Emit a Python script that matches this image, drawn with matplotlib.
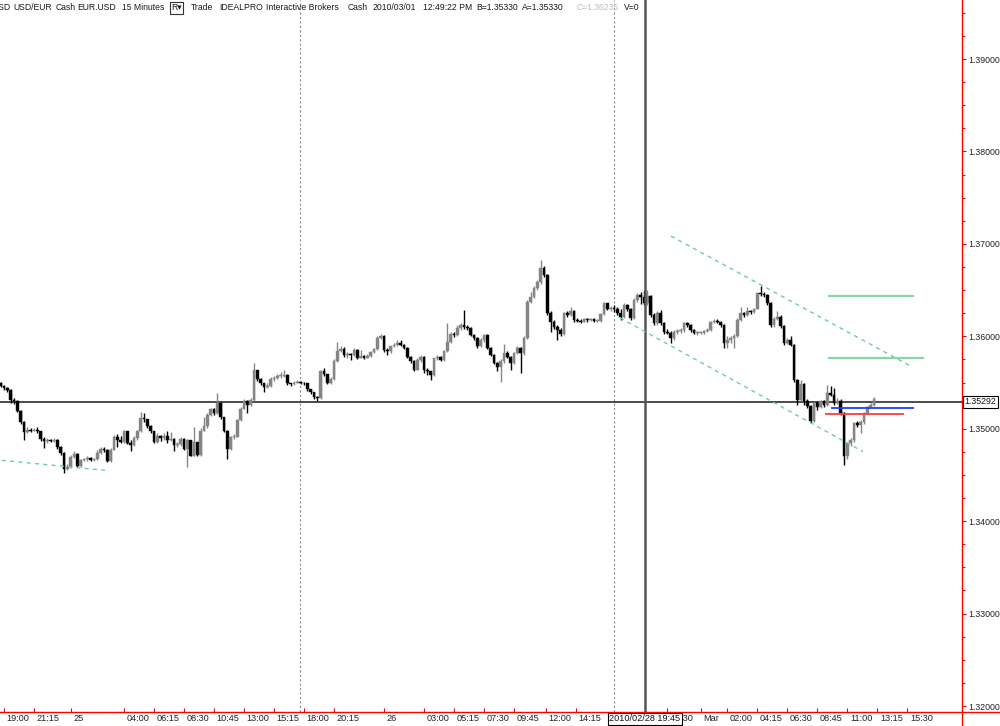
import matplotlib
matplotlib.use("Agg")
import matplotlib.pyplot as plt
import numpy as np
from matplotlib.lines import Line2D

# 15 minute bars, USD/EUR, Feb 24 18:45 -> Mar 1 12:45 (open of each bar = previous close)
first_open = 1.3549
close = [
    1.3546, 1.3544, 1.3542, 1.3531, 1.3530, 1.3519, 1.3507, 1.3496, 1.3499, 1.3498,
    1.3499, 1.3497, 1.3489, 1.3487, 1.3488, 1.3487, 1.3488, 1.3480, 1.3474, 1.3456,
    1.3459, 1.3469, 1.3473, 1.3460, 1.3466, 1.3467, 1.3468, 1.3466, 1.3467, 1.3474,
    1.3478, 1.3477, 1.3465, 1.3477, 1.3491, 1.3488, 1.3486, 1.3497, 1.3485, 1.3482,
    1.3490, 1.3497, 1.3512, 1.3510, 1.3503, 1.3497, 1.3486, 1.3492, 1.3490, 1.3492,
    1.3488, 1.3489, 1.3482, 1.3484, 1.3489, 1.3478, 1.3488, 1.3471, 1.3486, 1.3472,
    1.3498, 1.3503, 1.3515, 1.3521, 1.3517, 1.3528, 1.3513, 1.3498, 1.3478, 1.3491,
    1.3491, 1.3509, 1.3521, 1.3530, 1.3526, 1.3531, 1.3563, 1.3554, 1.3549, 1.3545,
    1.3546, 1.3554, 1.3555, 1.3557, 1.3557, 1.3558, 1.3549, 1.3548, 1.3550, 1.3551,
    1.3550, 1.3549, 1.3543, 1.3540, 1.3534, 1.3533, 1.3562, 1.3559, 1.3549, 1.3554,
    1.3573, 1.3584, 1.3586, 1.3580, 1.3581, 1.3580, 1.3585, 1.3576, 1.3579, 1.3577,
    1.3579, 1.3583, 1.3586, 1.3598, 1.3600, 1.3585, 1.3584, 1.3589, 1.3591, 1.3593,
    1.3591, 1.3587, 1.3578, 1.3573, 1.3564, 1.3574, 1.3578, 1.3564, 1.3562, 1.3558,
    1.3576, 1.3578, 1.3574, 1.3584, 1.3594, 1.3603, 1.3601, 1.3609, 1.3612, 1.3610,
    1.3609, 1.3601, 1.3598, 1.3589, 1.3596, 1.3601, 1.3587, 1.3580, 1.3571, 1.3567,
    1.3573, 1.3582, 1.3578, 1.3571, 1.3582, 1.3587, 1.3582, 1.3598, 1.3637, 1.3643,
    1.3652, 1.3659, 1.3674, 1.3666, 1.3625, 1.3616, 1.3610, 1.3607, 1.3603, 1.3625,
    1.3623, 1.3627, 1.3618, 1.3617, 1.3616, 1.3619, 1.3618, 1.3619, 1.3617, 1.3617,
    1.3624, 1.3636, 1.3630, 1.3631,
    # Sunday evening / Monday
    1.3629, 1.3625, 1.3621, 1.3634, 1.3630, 1.3620, 1.3639, 1.3645, 1.3643, 1.3636,
    1.3644, 1.3623, 1.3614, 1.3625, 1.3614, 1.3605, 1.3604, 1.3598, 1.3605, 1.3606,
    1.3607, 1.3614, 1.3612, 1.3607, 1.3604, 1.3604, 1.3604, 1.3606, 1.3607, 1.3616,
    1.3617, 1.3616, 1.3612, 1.3593, 1.3596, 1.3598, 1.3600, 1.3618, 1.3625, 1.3623,
    1.3627, 1.3626, 1.3630, 1.3647, 1.3646, 1.3645, 1.3636, 1.3612, 1.3619, 1.3621,
    1.3611, 1.3593, 1.3596, 1.3591, 1.3553, 1.3531, 1.3548, 1.3530, 1.3525, 1.3508,
    1.3528, 1.3523, 1.3530, 1.3526, 1.3539, 1.3537, 1.3528, 1.3530, 1.3517, 1.3470,
    1.3485, 1.3488, 1.3506, 1.3504, 1.3507, 1.3517, 1.3524, 1.3526, 1.3532,
]
high = [
    1.3551, 1.3547, 1.3545, 1.3543, 1.3533, 1.3531, 1.3520, 1.3508, 1.3502, 1.3501,
    1.3501, 1.3502, 1.3498, 1.3491, 1.3490, 1.3489, 1.3490, 1.3489, 1.3481, 1.3475,
    1.3462, 1.3472, 1.3476, 1.3474, 1.3467, 1.3468, 1.3470, 1.3469, 1.3468, 1.3477,
    1.3480, 1.3480, 1.3478, 1.3479, 1.3493, 1.3494, 1.3492, 1.3499, 1.3498, 1.3488,
    1.3492, 1.3499, 1.3518, 1.3517, 1.3511, 1.3504, 1.3498, 1.3495, 1.3493, 1.3495,
    1.3497, 1.3496, 1.3490, 1.3486, 1.3491, 1.3490, 1.3489, 1.3488, 1.3502, 1.3486,
    1.3501, 1.3513, 1.3517, 1.3522, 1.3522, 1.3539, 1.3529, 1.3513, 1.3499, 1.3492,
    1.3494, 1.3510, 1.3523, 1.3532, 1.3531, 1.3533, 1.3571, 1.3564, 1.3555, 1.3550,
    1.3549, 1.3556, 1.3557, 1.3559, 1.3561, 1.3563, 1.3559, 1.3550, 1.3552, 1.3553,
    1.3552, 1.3551, 1.3550, 1.3543, 1.3540, 1.3535, 1.3564, 1.3566, 1.3559, 1.3556,
    1.3575, 1.3594, 1.3590, 1.3588, 1.3583, 1.3582, 1.3587, 1.3586, 1.3585, 1.3580,
    1.3581, 1.3584, 1.3587, 1.3600, 1.3603, 1.3601, 1.3587, 1.3590, 1.3593, 1.3596,
    1.3596, 1.3592, 1.3588, 1.3579, 1.3574, 1.3576, 1.3580, 1.3579, 1.3566, 1.3562,
    1.3577, 1.3580, 1.3579, 1.3585, 1.3614, 1.3605, 1.3605, 1.3612, 1.3614, 1.3628,
    1.3612, 1.3610, 1.3602, 1.3599, 1.3598, 1.3603, 1.3602, 1.3588, 1.3581, 1.3572,
    1.3575, 1.3592, 1.3584, 1.3579, 1.3583, 1.3589, 1.3588, 1.3600, 1.3639, 1.3648,
    1.3654, 1.3661, 1.3683, 1.3676, 1.3667, 1.3627, 1.3618, 1.3612, 1.3609, 1.3626,
    1.3627, 1.3632, 1.3628, 1.3620, 1.3619, 1.3620, 1.3620, 1.3620, 1.3620, 1.3619,
    1.3625, 1.3637, 1.3636, 1.3633,
    1.3634, 1.3632, 1.3629, 1.3636, 1.3635, 1.3631, 1.3641, 1.3647, 1.3648, 1.3650,
    1.3650, 1.3645, 1.3625, 1.3627, 1.3628, 1.3616, 1.3608, 1.3606, 1.3607, 1.3608,
    1.3609, 1.3616, 1.3616, 1.3613, 1.3608, 1.3606, 1.3606, 1.3607, 1.3609, 1.3617,
    1.3619, 1.3619, 1.3617, 1.3613, 1.3600, 1.3600, 1.3602, 1.3620, 1.3632, 1.3626,
    1.3632, 1.3628, 1.3631, 1.3648, 1.3654, 1.3648, 1.3646, 1.3637, 1.3621, 1.3627,
    1.3623, 1.3612, 1.3598, 1.3600, 1.3592, 1.3554, 1.3553, 1.3549, 1.3532, 1.3526,
    1.3529, 1.3530, 1.3531, 1.3531, 1.3547, 1.3546, 1.3544, 1.3533, 1.3532, 1.3518,
    1.3486, 1.3490, 1.3507, 1.3508, 1.3509, 1.3518, 1.3525, 1.3528, 1.3534,
]
low = [
    1.3545, 1.3542, 1.3540, 1.3528, 1.3527, 1.3518, 1.3505, 1.3488, 1.3495, 1.3496,
    1.3497, 1.3495, 1.3487, 1.3479, 1.3485, 1.3486, 1.3486, 1.3478, 1.3472, 1.3452,
    1.3455, 1.3458, 1.3468, 1.3459, 1.3459, 1.3465, 1.3465, 1.3465, 1.3465, 1.3466,
    1.3473, 1.3475, 1.3464, 1.3464, 1.3477, 1.3480, 1.3485, 1.3485, 1.3484, 1.3476,
    1.3481, 1.3488, 1.3496, 1.3507, 1.3501, 1.3495, 1.3485, 1.3485, 1.3487, 1.3488,
    1.3485, 1.3487, 1.3476, 1.3480, 1.3481, 1.3477, 1.3459, 1.3470, 1.3470, 1.3470,
    1.3471, 1.3497, 1.3501, 1.3514, 1.3515, 1.3516, 1.3510, 1.3496, 1.3467, 1.3477,
    1.3489, 1.3491, 1.3508, 1.3521, 1.3517, 1.3525, 1.3530, 1.3552, 1.3547, 1.3540,
    1.3544, 1.3545, 1.3552, 1.3554, 1.3555, 1.3556, 1.3547, 1.3546, 1.3547, 1.3549,
    1.3548, 1.3547, 1.3541, 1.3538, 1.3532, 1.3530, 1.3532, 1.3557, 1.3548, 1.3548,
    1.3553, 1.3572, 1.3583, 1.3578, 1.3577, 1.3574, 1.3579, 1.3575, 1.3576, 1.3575,
    1.3576, 1.3578, 1.3582, 1.3585, 1.3597, 1.3583, 1.3580, 1.3582, 1.3588, 1.3590,
    1.3589, 1.3586, 1.3577, 1.3571, 1.3562, 1.3563, 1.3572, 1.3560, 1.3558, 1.3553,
    1.3557, 1.3574, 1.3573, 1.3573, 1.3583, 1.3593, 1.3599, 1.3600, 1.3607, 1.3608,
    1.3607, 1.3600, 1.3596, 1.3587, 1.3588, 1.3594, 1.3586, 1.3579, 1.3570, 1.3562,
    1.3551, 1.3571, 1.3576, 1.3564, 1.3570, 1.3581, 1.3560, 1.3580, 1.3597, 1.3636,
    1.3641, 1.3650, 1.3657, 1.3664, 1.3623, 1.3605, 1.3608, 1.3596, 1.3600, 1.3601,
    1.3621, 1.3622, 1.3616, 1.3615, 1.3614, 1.3615, 1.3616, 1.3617, 1.3615, 1.3616,
    1.3616, 1.3623, 1.3628, 1.3627,
    1.3626, 1.3623, 1.3618, 1.3620, 1.3627, 1.3618, 1.3619, 1.3637, 1.3635, 1.3634,
    1.3634, 1.3621, 1.3612, 1.3612, 1.3612, 1.3603, 1.3602, 1.3593, 1.3596, 1.3603,
    1.3604, 1.3605, 1.3610, 1.3605, 1.3602, 1.3601, 1.3602, 1.3603, 1.3605, 1.3606,
    1.3614, 1.3614, 1.3610, 1.3587, 1.3587, 1.3593, 1.3587, 1.3599, 1.3617, 1.3621,
    1.3622, 1.3624, 1.3625, 1.3629, 1.3644, 1.3643, 1.3634, 1.3610, 1.3610, 1.3618,
    1.3609, 1.3591, 1.3592, 1.3589, 1.3551, 1.3526, 1.3530, 1.3526, 1.3522, 1.3506,
    1.3507, 1.3520, 1.3522, 1.3523, 1.3525, 1.3535, 1.3526, 1.3527, 1.3515, 1.3461,
    1.3467, 1.3481, 1.3486, 1.3502, 1.3495, 1.3505, 1.3516, 1.3522, 1.3525,
]

# time axis labels (bar index where they sit)
tick_pos = [1, 10, 21, 37, 46, 55, 64, 73, 82, 91, 100, 115, 127, 136, 145, 154,
            163.5, 172.5, 200, 210, 218, 227, 236, 245, 254, 263, 272]
tick_lab = ['19:00', '21:15', '25', '04:00', '06:15', '08:30', '10:45', '13:00',
            '15:15', '18:00', '20:15', '26', '03:00', '05:15', '07:30', '09:45',
            '12:00', '14:15', '21:30', 'Mar', '02:00', '04:15', '06:30', '08:45',
            '11:00', '13:15', '15:30']
session_breaks = [89.8, 183.9]
cursor_bar = 193.2
cursor_label = '2010/02/28 19:45'
last_price = 1.35292

# header words
head_words = ['USD', 'USD/EUR', 'Cash', 'EUR.USD', '15 Minutes', 'Trade', 'IDEALPRO',
              'Interactive Brokers', 'Cash', '2010/03/01', '12:49:22 PM', 'B=1.35330',
              'A=1.35330', 'C=1.36235', 'V=0']
head_x = [-8, 13, 56, 77, 122, 191, 219, 266, 348, 373, 423, 476, 522, 577, 624]

# drawn lines (bar index, price)
dashed_green = [((0.3, 1.34658), (31.3, 1.34550)),
                ((201.1, 1.37084), (273.4, 1.35670)),
                ((185.8, 1.36199), (258.7, 1.34752))]
solid_green = [((248.5, 1.36436), (273.7, 1.36436)),
               ((248.5, 1.35770), (276.7, 1.35770))]
blue_line = ((249.3, 1.35227), (273.7, 1.35227))
red_line = ((247.6, 1.35154), (270.7, 1.35154))

n = len(close)
x = np.arange(n)
c = np.array(close)
o = np.array([first_open] + close[:-1])
h = np.array(high)
lo = np.array(low)

fig = plt.figure(figsize=(10, 7.26), dpi=100)
ax = fig.add_axes([0, 14 / 726, 0.962, 712 / 726])
ax.set_xlim(-0.21, 288.4)
ax.set_ylim(1.319351, 1.396385)
for s in ax.spines.values():
    s.set_visible(False)

up = c >= o
col = np.where(up, '#858585', '#000000')
ax.vlines(x, lo, h, colors=col, linewidth=1.0, zorder=3)
body = np.maximum(np.abs(c - o), 0.00008)
ax.bar(x, body, width=0.8, bottom=np.minimum(o, c), color=col,
       edgecolor=col, linewidth=0.3, zorder=4)

# last price and separators
ax.axhline(last_price, color='#1a1a1a', lw=1.1, zorder=2)
for b in session_breaks:
    ax.axvline(b, color='#8c8c8c', lw=0.8, ls=(0, (2, 2)), zorder=1)
ax.axvline(cursor_bar, color='#555555', lw=1.8, zorder=5)

for (x0, y0), (x1, y1) in dashed_green:
    ax.plot([x0, x1], [y0, y1], color='#6fcf9a', lw=1.0, ls=(0, (3, 3)), zorder=6)
for (x0, y0), (x1, y1) in solid_green:
    ax.plot([x0, x1], [y0, y1], color='#8bd3a8', lw=1.6, zorder=6)
ax.plot([blue_line[0][0], blue_line[1][0]], [blue_line[0][1], blue_line[1][1]],
        color='#1c3cff', lw=1.3, zorder=6)
ax.plot([red_line[0][0], red_line[1][0]], [red_line[0][1], red_line[1][1]],
        color='#ff3b3b', lw=1.3, zorder=6)

# price axis on the right
yt = [1.32, 1.33, 1.34, 1.35, 1.36, 1.37, 1.38, 1.39]
ax.yaxis.tick_right()
ax.set_yticks(yt)
ax.set_yticklabels(['%.5f' % v for v in yt])
ax.set_yticks(np.arange(1.3225, 1.3950, 0.0025), minor=True)
ax.tick_params(axis='y', which='major', colors='red', length=3, width=0.8, pad=1.5,
               labelsize=6.3, labelcolor='#222222')
ax.tick_params(axis='y', which='minor', colors='red', length=2, width=0.8)
for t in ax.get_yticklabels():
    t.set_fontfamily('Liberation Sans')

# time axis
ax.set_xticks(tick_pos)
ax.set_xticklabels([])
ax.tick_params(axis='x', colors='red', direction='in', length=3, width=0.8)
for p, lab in zip(tick_pos, tick_lab):
    ax.annotate(lab, xy=(p, 0), xycoords=('data', 'axes fraction'),
                xytext=(2, -5), textcoords='offset points', ha='left', va='center',
                fontsize=6.6, family='Liberation Sans', color='#222222',
                annotation_clip=False)

# red frame lines
fig.add_artist(Line2D([0.962, 0.962], [0, 1], color='red', lw=1.0))
fig.add_artist(Line2D([0, 1], [14 / 726, 14 / 726], color='red', lw=1.0))

# boxed labels
ax.annotate('%.5f' % last_price, xy=(1, last_price), xycoords=('axes fraction', 'data'),
            xytext=(2, 0), textcoords='offset points', ha='left', va='center',
            fontsize=6.3, family='Liberation Sans', color='#111111',
            bbox=dict(boxstyle='square,pad=0.15', fc='white', ec='black', lw=0.8),
            annotation_clip=False, zorder=10)
ax.annotate(cursor_label, xy=(cursor_bar, 0), xycoords=('data', 'axes fraction'),
            xytext=(0, -5), textcoords='offset points', ha='center', va='center',
            fontsize=6.6, family='Liberation Sans', color='#111111',
            bbox=dict(boxstyle='square,pad=0.15', fc='white', ec='black', lw=0.8),
            annotation_clip=False, zorder=10)

# header line
ty = 1 - 8 / 726
for px, txt in zip(head_x, head_words):
    cl = '#bdbdbd' if txt.startswith('C=') else '#1a1a1a'
    fig.text(px / 1000, ty, txt, ha='left', va='center', fontsize=6.2,
             family='Liberation Sans', color=cl)
fig.text(171 / 1000, ty, 'R\u25be', ha='left', va='center', fontsize=6.2,
         family=['Liberation Sans', 'DejaVu Sans'], color='#1a1a1a',
         bbox=dict(boxstyle='square,pad=0.15', fc='white', ec='#333333', lw=0.8))

fig.savefig('out.png', dpi=100)
